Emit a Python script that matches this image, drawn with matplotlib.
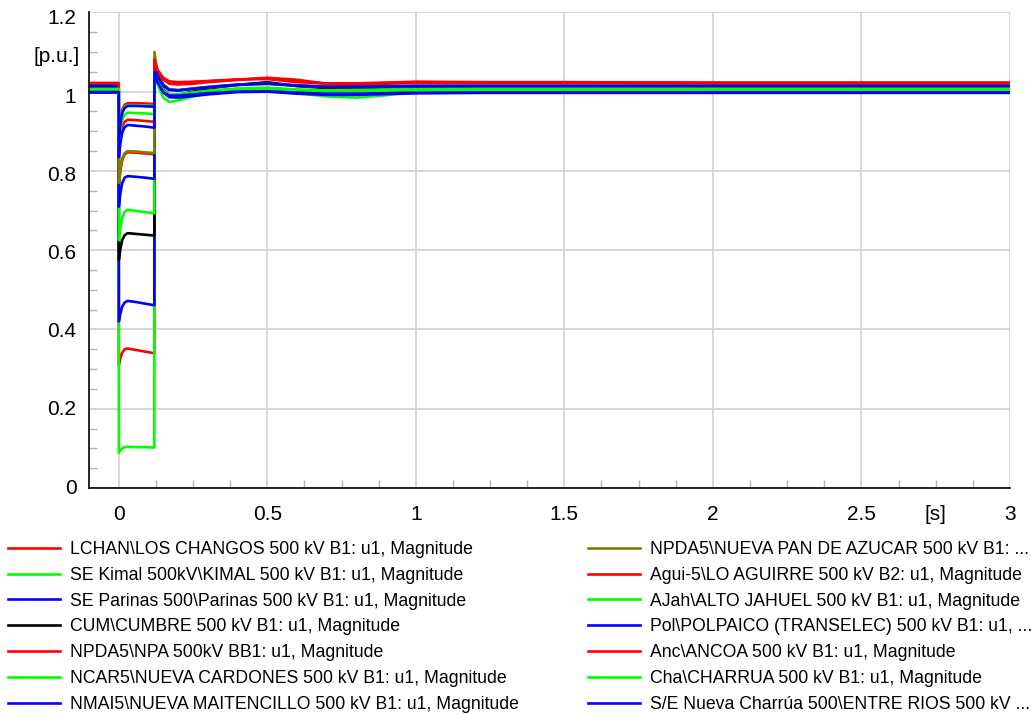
import matplotlib
matplotlib.use("Agg")
import matplotlib.pyplot as plt
from matplotlib.ticker import MultipleLocator, FuncFormatter
from matplotlib.transforms import ScaledTranslation, blended_transform_factory

plt.rcParams['font.family'] = ['Liberation Sans', 'DejaVu Sans']

# Simulation time [s]: pre-fault, fault on (0 - 0.12 s), post-fault recovery
t = [-0.1, 0.0,
     0.0005, 0.006, 0.012, 0.02, 0.03, 0.06, 0.09, 0.12,
     0.1205, 0.13, 0.15, 0.17, 0.2, 0.25, 0.3, 0.4, 0.5, 0.6, 0.7, 0.8, 0.9,
     1.0, 1.25, 1.5, 2.0, 2.5, 3.0]

# Positive-sequence voltage magnitude [p.u.] per 500 kV busbar
los_changos = [0.999, 0.999,
               0.310, 0.328, 0.342, 0.350, 0.352, 0.348, 0.344, 0.340,
               1.060, 1.035, 1.005, 0.992, 0.991, 0.995, 0.999, 1.003, 1.002, 0.999, 0.998, 0.998, 1.000,
               1.000, 0.999, 0.999, 0.999, 0.999, 0.999]
kimal = [1.006, 1.006,
         0.089, 0.095, 0.100, 0.103, 0.104, 0.103, 0.103, 0.102,
         1.050, 1.020, 0.985, 0.974, 0.978, 0.988, 0.996, 1.003, 1.003, 0.996, 0.988, 0.985, 0.991,
         0.999, 1.003, 1.005, 1.006, 1.006, 1.006]
parinas = [0.998, 0.998,
           0.420, 0.442, 0.458, 0.468, 0.472, 0.469, 0.465, 0.461,
           1.055, 1.030, 0.998, 0.986, 0.985, 0.989, 0.993, 0.999, 1.000, 0.995, 0.992, 0.992, 0.994,
           0.996, 0.997, 0.997, 0.997, 0.997, 0.997]
cumbre = [1.009, 1.009,
          0.575, 0.605, 0.626, 0.638, 0.643, 0.641, 0.639, 0.637,
          1.070, 1.040, 1.005, 0.990, 0.992, 1.000, 1.008, 1.017, 1.024, 1.014, 1.009, 1.008, 1.010,
          1.011, 1.011, 1.011, 1.011, 1.011, 1.011]
npa = [1.021, 1.021,
       0.765, 0.803, 0.828, 0.842, 0.847, 0.846, 0.844, 0.842,
       1.085, 1.055, 1.032, 1.020, 1.018, 1.020, 1.024, 1.030, 1.035, 1.030, 1.020, 1.018, 1.020,
       1.023, 1.022, 1.022, 1.021, 1.021, 1.021]
cardones = [1.006, 1.006,
            0.625, 0.658, 0.682, 0.697, 0.702, 0.699, 0.696, 0.693,
            1.060, 1.035, 1.003, 0.990, 0.990, 0.996, 1.000, 1.006, 1.009, 1.004, 1.000, 0.999, 1.002,
            1.005, 1.006, 1.006, 1.006, 1.006, 1.006]
maitencillo = [1.015, 1.015,
               0.710, 0.745, 0.770, 0.783, 0.787, 0.785, 0.783, 0.780,
               1.070, 1.045, 1.018, 1.006, 1.004, 1.008, 1.012, 1.018, 1.021, 1.016, 1.013, 1.013, 1.014,
               1.015, 1.015, 1.015, 1.015, 1.015, 1.015]
pan_de_azucar = [1.015, 1.015,
                 0.770, 0.808, 0.832, 0.845, 0.850, 0.849, 0.847, 0.845,
                 1.100, 1.045, 1.016, 1.005, 1.003, 1.007, 1.011, 1.017, 1.020, 1.015, 1.012, 1.012, 1.013,
                 1.014, 1.014, 1.014, 1.014, 1.014, 1.014]
lo_aguirre = [1.021, 1.021,
              0.850, 0.887, 0.912, 0.924, 0.929, 0.928, 0.926, 0.924,
              1.080, 1.050, 1.030, 1.022, 1.022, 1.024, 1.026, 1.030, 1.034, 1.026, 1.020, 1.019, 1.022,
              1.024, 1.023, 1.023, 1.022, 1.022, 1.022]
alto_jahuel = [1.006, 1.006,
               0.865, 0.905, 0.930, 0.942, 0.947, 0.946, 0.945, 0.943,
               1.055, 1.030, 1.000, 0.992, 0.993, 0.998, 1.002, 1.008, 1.010, 1.005, 1.003, 1.003, 1.005,
               1.006, 1.006, 1.006, 1.006, 1.006, 1.006]
polpaico = [1.015, 1.015,
            0.835, 0.872, 0.897, 0.910, 0.916, 0.914, 0.912, 0.909,
            1.065, 1.040, 1.015, 1.004, 1.003, 1.007, 1.011, 1.017, 1.020, 1.015, 1.012, 1.012, 1.013,
            1.014, 1.014, 1.014, 1.014, 1.014, 1.014]
ancoa = [1.022, 1.022,
         0.885, 0.930, 0.955, 0.967, 0.971, 0.971, 0.970, 0.969,
         1.075, 1.055, 1.035, 1.026, 1.024, 1.025, 1.027, 1.031, 1.032, 1.024, 1.021, 1.021, 1.023,
         1.025, 1.024, 1.024, 1.023, 1.023, 1.023]
charrua = [1.007, 1.007,
           0.880, 0.925, 0.950, 0.962, 0.966, 0.966, 0.965, 0.964,
           1.050, 1.025, 0.998, 0.990, 0.992, 0.997, 1.001, 1.007, 1.009, 1.005, 1.003, 1.004, 1.005,
           1.006, 1.007, 1.007, 1.007, 1.007, 1.007]
entre_rios = [0.999, 0.999,
              0.878, 0.922, 0.947, 0.959, 0.964, 0.964, 0.963, 0.962,
              1.050, 1.025, 0.998, 0.990, 0.990, 0.993, 0.996, 1.000, 1.001, 0.997, 0.995, 0.995, 0.996,
              0.997, 0.998, 0.998, 0.998, 0.998, 0.998]

labels = [
    "LCHAN\\LOS CHANGOS 500 kV B1: u1, Magnitude",
    "SE Kimal 500kV\\KIMAL 500 kV B1: u1, Magnitude",
    "SE Parinas 500\\Parinas 500 kV B1: u1, Magnitude",
    "CUM\\CUMBRE 500 kV B1: u1, Magnitude",
    "NPDA5\\NPA 500kV BB1: u1, Magnitude",
    "NCAR5\\NUEVA CARDONES 500 kV B1: u1, Magnitude",
    "NMAI5\\NUEVA MAITENCILLO 500 kV B1: u1, Magnitude",
    "NPDA5\\NUEVA PAN DE AZUCAR 500 kV B1: ...",
    "Agui-5\\LO AGUIRRE 500 kV B2: u1, Magnitude",
    "AJah\\ALTO JAHUEL 500 kV B1: u1, Magnitude",
    "Pol\\POLPAICO (TRANSELEC) 500 kV B1: u1, ...",
    "Anc\\ANCOA 500 kV B1: u1, Magnitude",
    "Cha\\CHARRUA 500 kV B1: u1, Magnitude",
    "S/E Nueva Charrúa 500\\ENTRE RIOS 500 kV ...",
]
series = [los_changos, kimal, parinas, cumbre, npa, cardones, maitencillo,
          pan_de_azucar, lo_aguirre, alto_jahuel, polpaico, ancoa, charrua, entre_rios]
colors = ["#ff0000", "#00ff00", "#0000ff", "#000000", "#ff0000", "#00ff00", "#0000ff",
          "#808000", "#ff0000", "#00ff00", "#0000ff", "#ff0000", "#00ff00", "#0000ff"]

x_ticks = [0, 0.5, 1, 1.5, 2, 2.5, 3]
y_ticks = [0, 0.2, 0.4, 0.6, 0.8, 1.0, 1.2]

W, H = 1031, 715
fig = plt.figure(figsize=(W / 100, H / 100), dpi=100)
ax = fig.add_axes([89 / W, 1 - 488 / H, (1010 - 89) / W, (488 - 12.4) / H])

handles = []
for vals, col, lab in zip(series, colors, labels):
    ln, = ax.plot(t, vals, color=col, lw=1.9, label=lab, solid_joinstyle='round')
    handles.append(ln)

ax.set_xlim(-0.1, 3.0)
ax.set_ylim(0, 1.2)
ax.set_xticks(x_ticks)
ax.set_yticks(y_ticks)
ax.xaxis.set_minor_locator(MultipleLocator(0.125))
ax.yaxis.set_minor_locator(MultipleLocator(0.05))
fmt = FuncFormatter(lambda v, p: f"{v:g}")
ax.xaxis.set_major_formatter(fmt)
ax.yaxis.set_major_formatter(fmt)

ax.grid(True, which='major', color='#cfcfcf', lw=1.2)
ax.set_axisbelow(True)
for s in ('top', 'right'):
    ax.spines[s].set_visible(False)
for s in ('left', 'bottom'):
    ax.spines[s].set_color('black')
    ax.spines[s].set_linewidth(1.2)

ax.tick_params(which='major', length=0, labelsize=15)
ax.tick_params(axis='y', which='major', pad=9)
ax.tick_params(axis='x', which='major', pad=12)
ax.tick_params(which='minor', direction='in', length=6, width=1, color='#b5b5b5')


def label_shift(v):
    # value labels sit on a slightly tighter spacing than the grid
    return ScaledTranslation(0, -(5.5 * v - 2) / 100, fig.dpi_scale_trans)


for v, lbl in zip(y_ticks, ax.get_yticklabels()):
    lbl.set_transform(lbl.get_transform() + label_shift(v))

# unit labels placed in line with the tick labels
ytr = blended_transform_factory(ax.transAxes, ax.transData)
ax.text(-9 / 921, 1.1, "[p.u.]", transform=ytr + label_shift(1.1), ha='right', va='center',
        fontsize=15)
xtr = blended_transform_factory(ax.transData, ax.transAxes)
ax.annotate("[s]", xy=(2.75, 0), xycoords=xtr, xytext=(0, -12), textcoords='offset points',
            ha='center', va='top', fontsize=15)

leg_kw = dict(loc='upper left', frameon=False, fontsize=12.7, handlelength=2.95,
              handletextpad=0.57, labelspacing=0.5, borderpad=0, borderaxespad=0)
fig.legend(handles[:7], labels[:7], bbox_to_anchor=(8 / W, 1 - 541 / H), **leg_kw)
fig.legend(handles[7:], labels[7:], bbox_to_anchor=(588 / W, 1 - 541 / H), **leg_kw)

fig.savefig("out.png", dpi=100)
